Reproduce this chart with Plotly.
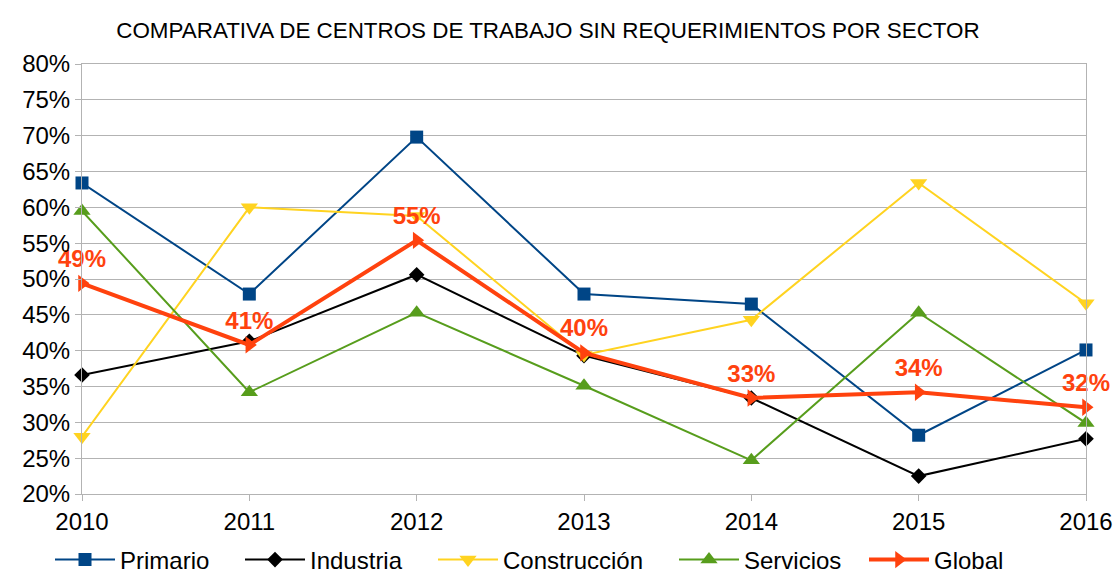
"""Comparativa de centros de trabajo sin requerimientos por sector."""
import plotly.graph_objects as go

years = [2010, 2011, 2012, 2013, 2014, 2015, 2016]

primario = [0.634, 0.479, 0.698, 0.479, 0.465, 0.282, 0.401]
industria = [0.366, 0.413, 0.506, 0.393, 0.334, 0.225, 0.277]
construccion = [0.280, 0.600, 0.588, 0.394, 0.443, 0.634, 0.466]
servicios = [0.595, 0.342, 0.453, 0.351, 0.247, 0.453, 0.299]
global_ = [0.494, 0.408, 0.554, 0.397, 0.334, 0.342, 0.321]

series = [
    ("Primario", primario, "#004586", "square", 13, 2),
    ("Industria", industria, "#000000", "diamond", 12, 2),
    ("Construcción", construccion, "#ffd320", "triangle-down", 15, 2),
    ("Servicios", servicios, "#579d1c", "triangle-up", 15, 2),
    ("Global", global_, "#ff420e", "triangle-right", 15, 4),
]

FONT = "Liberation Sans, Arial, sans-serif"
GRID = "#b3b3b3"
W, H = 1117, 573

# left edge (px) of each legend entry, one legend per series
legend_x = [50, 240, 433, 674, 864]

fig = go.Figure()
layout_legends = {}
for i, (name, vals, color, symbol, size, width) in enumerate(series):
    key = "legend" if i == 0 else f"legend{i + 1}"
    is_global = name == "Global"
    fig.add_trace(go.Scatter(
        x=years, y=vals, name=name,
        mode="lines+markers+text" if is_global else "lines+markers",
        line=dict(color=color, width=width),
        marker=dict(symbol=symbol, size=size, color=color),
        texttemplate="%{y:.0%}" if is_global else None,
        textposition="top center",
        textfont=dict(family=FONT, size=24, color=color, weight="bold"),
        cliponaxis=False,
        legend=key,
    ))
    layout_legends[key] = dict(
        orientation="h", x=legend_x[i] / W, xanchor="left", xref="container",
        y=1 - 560 / H, yanchor="middle", yref="container",
        font=dict(size=24), itemwidth=60, bgcolor="rgba(0,0,0,0)",
    )

fig.update_layout(
    width=W, height=H,
    margin=dict(l=82, r=31, t=64, b=79, autoexpand=False),
    paper_bgcolor="white", plot_bgcolor="white",
    font=dict(family=FONT, size=24, color="black"),
    title=dict(
        text="COMPARATIVA DE CENTROS DE TRABAJO SIN REQUERIMIENTOS POR SECTOR",
        font=dict(family="Liberation Sans Narrow, Liberation Sans, sans-serif", size=22.4),
        x=548 / W, xanchor="center", xref="container",
        y=1 - 30 / H, yanchor="middle", yref="container",
    ),
    showlegend=True,
    **layout_legends,
)
fig.update_xaxes(
    range=[2010, 2016], tickvals=years, ticktext=[str(y) for y in years],
    showgrid=False, showline=True, linecolor=GRID, linewidth=1, mirror=True,
    ticks="outside", ticklen=6, tickcolor=GRID, zeroline=False,
    tickfont=dict(size=24), automargin=False,
)
fig.update_yaxes(
    range=[0.2, 0.8], dtick=0.05, tickformat=".0%",
    showgrid=True, gridcolor=GRID, gridwidth=1,
    showline=True, linecolor=GRID, linewidth=1, mirror=True,
    ticks="outside", ticklen=6, tickcolor=GRID, zeroline=False,
    tickfont=dict(size=24), automargin=False,
)

# drop the browser's default 8px body margin so the figure sits at the page origin
fig.write_html(
    "out.html",
    config={"displayModeBar": False},
    post_script="document.body.style.margin = '0';",
)
